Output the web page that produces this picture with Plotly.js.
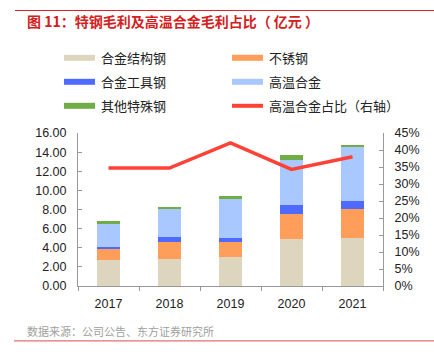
<!DOCTYPE html>
<html><head><meta charset="utf-8">
<script src="https://cdn.plot.ly/plotly-3.0.1.min.js"></script>
<style>html,body{margin:0;padding:0;background:#fff}#c{width:434px;height:358px}</style>
</head><body><div id="c"></div>
<script>
const years = ['2017','2018','2019','2020','2021'];
const structural = [2.71, 2.82, 3.03, 4.94, 5.04];   // 合金结构钢
const stainless  = [1.15, 1.81, 1.56, 2.54, 3.03];   // 不锈钢
const tool       = [0.21, 0.52, 0.45, 0.97, 0.83];   // 合金工具钢
const hightemp   = [2.43, 2.95, 4.04, 4.73, 5.60];   // 高温合金
const other      = [0.25, 0.21, 0.38, 0.49, 0.21];   // 其他特殊钢
const share      = [0.347, 0.347, 0.421, 0.343, 0.380]; // 高温合金占比（右轴）
const barNames = ['合金结构钢','不锈钢','合金工具钢','高温合金','其他特殊钢'];
const lineName = '高温合金占比（右轴）';
const barColors = ['#DDD5BD','#FF9E5A','#4F6BFF','#A9C8FF','#70AD47'];
const lineColor = '#FF4136';
const FONT = 'Liberation Sans, Arial, Noto Sans CJK SC, sans-serif';

const series = [structural, stainless, tool, hightemp, other];
const traces = series.map((v,i)=>({
  type:'bar', x:years, y:v, name:barNames[i], marker:{color:barColors[i]}, width:0.39,
  hoverinfo:'skip', showlegend:false
}));
traces.push({type:'scatter', mode:'lines', x:years, y:share, yaxis:'y2', name:lineName,
  line:{color:lineColor, width:3.5}, showlegend:false, hoverinfo:'skip'});

// manual legend (2 columns x 3 rows)
const legendItems = barNames.map((n,i)=>({name:n,color:barColors[i],line:false}));
legendItems.push({name:lineName,color:lineColor,line:true});
const colX = [64, 232], rowY = [57.5, 81.5, 105.5];
const shapes = [], annotations = [];
legendItems.forEach((it,idx)=>{
  const c = idx%2, r = Math.floor(idx/2);
  const x0 = colX[c], y = rowY[r];
  if (it.line) {
    shapes.push({type:'line', xsizemode:'pixel', ysizemode:'pixel', xref:'paper', yref:'paper',
      xanchor:0, yanchor:1, x0:x0-78, x1:x0+31-78, y0:-(y-132.7), y1:-(y-132.7),
      line:{color:it.color, width:4}});
  } else {
    shapes.push({type:'rect', xsizemode:'pixel', ysizemode:'pixel', xref:'paper', yref:'paper',
      xanchor:0, yanchor:1, x0:x0-78, x1:x0+31-78, y0:-(y-132.7)-3, y1:-(y-132.7)+3,
      fillcolor:it.color, line:{width:0}});
  }
  annotations.push({xref:'paper', yref:'paper', x:(x0+35-78)/305, y:1+(132.7-y)/153.3,
    xanchor:'left', yanchor:'middle', showarrow:false, text:it.name,
    font:{family:'Noto Sans CJK SC, sans-serif', size:13, color:'#222'}});
});

// title / source / rules
annotations.push({xref:'paper', yref:'paper', x:(25-78)/305, y:1+(132.7-20)/153.3, xanchor:'left', yanchor:'middle',
  showarrow:false, text:'<b>图 11：特钢毛利及高温合金毛利占比（ 亿元 ）</b>',
  font:{family:'Noto Sans CJK SC, sans-serif', size:14, color:'#D42020'}});
annotations.push({xref:'paper', yref:'paper', x:(25-78)/305, y:(286-331)/153.3, xanchor:'left', yanchor:'middle',
  showarrow:false, text:'数据来源：公司公告、东方证券研究所',
  font:{family:'Noto Sans CJK SC, sans-serif', size:11, color:'#A0A0A0'}});
shapes.push({type:'line', xref:'paper', yref:'paper', x0:(15-78)/305, x1:(434-78)/305,
  y0:1+(132.7-10)/153.3, y1:1+(132.7-10)/153.3, line:{color:'#D42020', width:1}});
shapes.push({type:'line', xref:'paper', yref:'paper', x0:(14-78)/305, x1:(434-78)/305,
  y0:(286-341)/153.3, y1:(286-341)/153.3, line:{color:'#E07070', width:1.2}});

const layout = {
  width:434, height:358, barmode:'stack', showlegend:false,
  margin:{l:78, r:51.3, t:132.7, b:72, pad:0},
  paper_bgcolor:'#fff', plot_bgcolor:'#fff',
  font:{family:FONT, size:12, color:'#222'},
  xaxis:{type:'category', showline:true, linecolor:'#999', linewidth:1, ticks:'outside', tickson:'boundaries',
    ticklen:4, tickcolor:'#999', showgrid:false, zeroline:false, tickfont:{size:12.5, family:FONT},
    ticklabelstandoff:6},
  yaxis:{range:[0,16], dtick:2, tickformat:'.2f', showline:true, linecolor:'#999', linewidth:1,
    ticks:'inside', ticklen:4, tickcolor:'#999', showgrid:false, zeroline:false,
    tickfont:{size:12.5, family:FONT}, ticklabelstandoff:8},
  yaxis2:{range:[0,0.45], dtick:0.05, tickformat:'.0%', overlaying:'y', side:'right', showline:true,
    linecolor:'#999', linewidth:1, ticks:'inside', ticklen:4, tickcolor:'#999', showgrid:false,
    zeroline:false, tickfont:{size:12.5, family:FONT}, ticklabelstandoff:8},
  shapes:shapes, annotations:annotations
};
Plotly.newPlot('c', traces, layout, {staticPlot:true, displayModeBar:false});
</script></body></html>
